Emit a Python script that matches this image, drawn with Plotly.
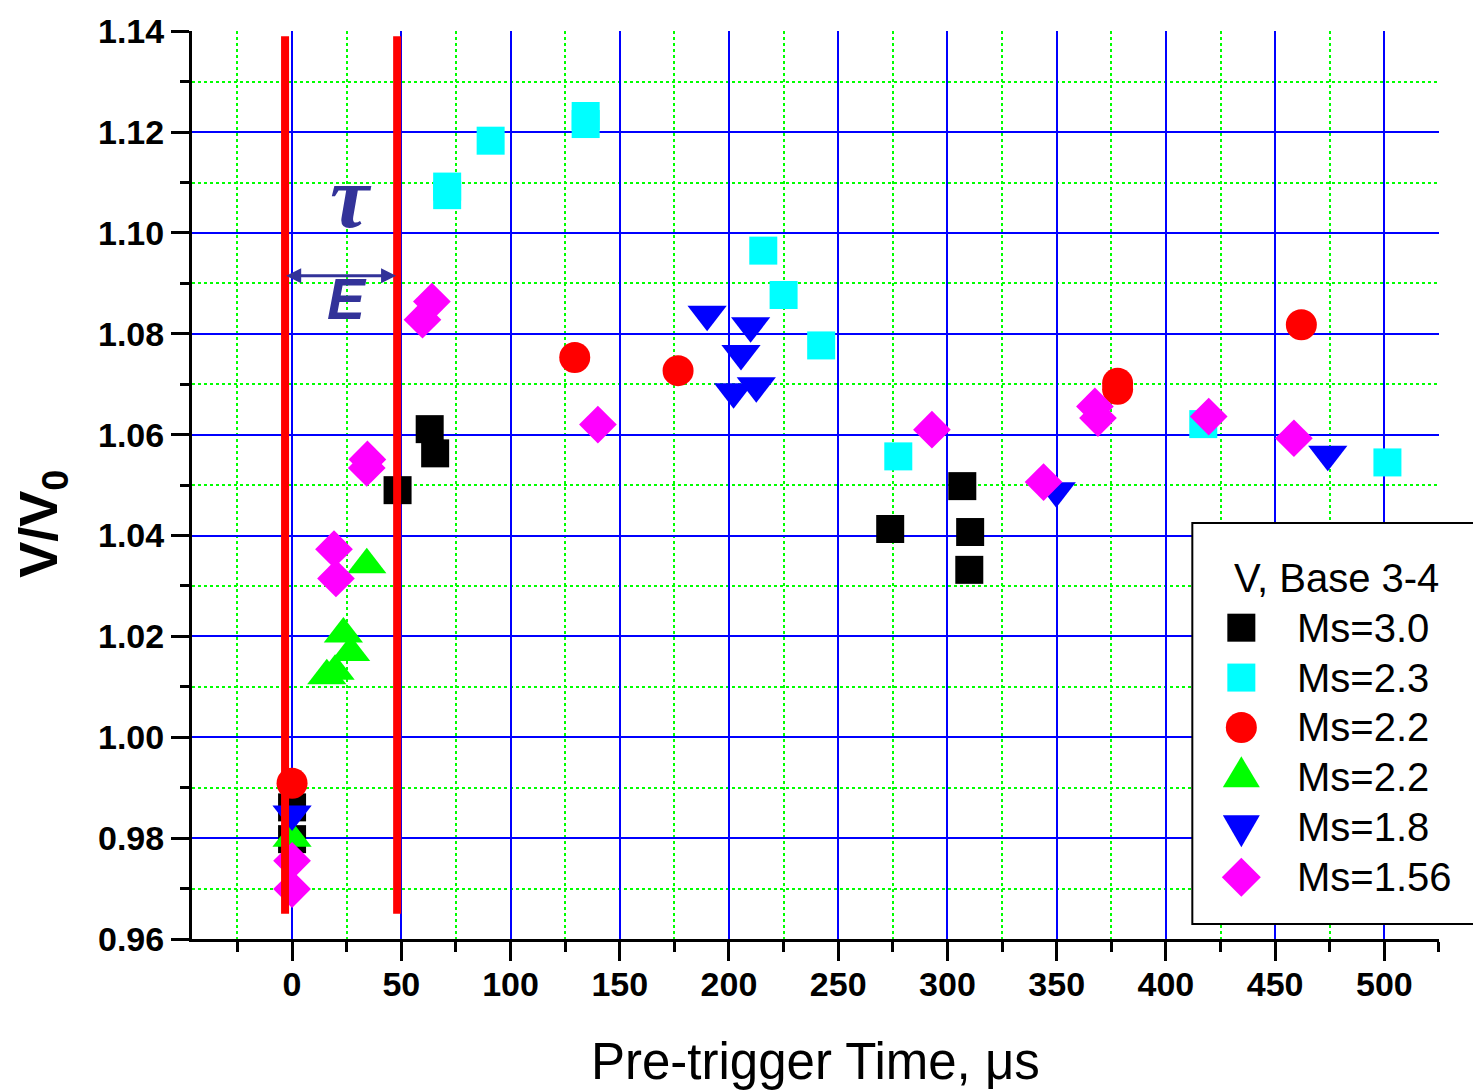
import plotly.graph_objects as go

# ---------------- data ----------------
series_names = ["Ms=3.0", "Ms=2.3", "Ms=2.2", "Ms=2.2", "Ms=1.8", "Ms=1.56"]
legend_title = "V, Base 3-4"

ms30_x = [0, 0, 63.0, 65.5, 48.3, 273.8, 306.8, 310.4, 310.0]
ms30_y = [0.9861, 0.9798, 1.0611, 1.0563, 1.0490, 1.0413, 1.0498, 1.0407, 1.0332]

ms23_x = [71.0, 71.0, 90.9, 134.4, 134.4, 215.7, 225.0, 242.2, 277.5, 417.1, 501.4]
ms23_y = [1.1092, 1.1075, 1.1183, 1.1232, 1.1216, 1.0965, 1.0877, 1.0777, 1.0557, 1.0621, 1.0545]

ms22a_x = [0, 129.4, 176.7, 377.9, 377.9, 462.0]
ms22a_y = [0.9909, 1.0753, 1.0727, 1.0702, 1.0690, 1.0818]

ms22b_x = [0, 15.9, 19.7, 23.5, 26.8, 34.2]
ms22b_y = [0.9800, 1.0122, 1.0131, 1.0205, 1.0168, 1.0342]

ms18_x = [0, 190.0, 209.9, 205.5, 202.1, 212.5, 349.8, 474.1]
ms18_y = [0.9848, 1.0839, 1.0816, 1.0761, 1.0685, 1.0697, 1.0489, 1.0561]

ms156_x = [0, 0, 19.2, 20.1, 34.5, 34.2, 64.0, 59.7, 140.0, 292.9, 344.0, 367.5, 368.9, 419.6, 458.6]
ms156_y = [0.9755, 0.9699, 1.0373, 1.0315, 1.0551, 1.0534, 1.0864, 1.0828, 1.0620, 1.0610,
           1.0506, 1.0656, 1.0633, 1.0636, 1.0593]

x_tick_vals = [0, 50, 100, 150, 200, 250, 300, 350, 400, 450, 500]
y_tick_vals = [0.96, 0.98, 1.00, 1.02, 1.04, 1.06, 1.08, 1.10, 1.12, 1.14]
y_tick_text = ["0.96", "0.98", "1.00", "1.02", "1.04", "1.06", "1.08", "1.10", "1.12", "1.14"]

# tau window (red vertical lines) and double arrow
tau_lines_x = [-3.2, 48.1]
tau_lines_y = [0.965, 1.139]
arrow_x = [-2.7, 47.6]
arrow_y = 1.0915

# ---------------- styling ----------------
FONT = "Liberation Sans, Arial, sans-serif"
NAVY = "#333399"
colors = ["#000000", "#00FFFF", "#FF0000", "#00FF00", "#0000FF", "#FF00FF"]
symbols = ["square", "square", "circle", "triangle-up", "triangle-down", "diamond"]
sizes = [28, 28, 31, 34, 34, 29]

xs = [ms30_x, ms23_x, ms22a_x, ms22b_x, ms18_x, ms156_x]
ys = [ms30_y, ms23_y, ms22a_y, ms22b_y, ms18_y, ms156_y]

W, H = 1473, 1091
ML, MR, MT, MB = 192, 34.4, 29, 152
PW = W - ML - MR
PH = H - MT - MB


def px_x(px):
    return (px - ML) / PW


def px_y(py):
    return (H - MB - py) / PH


fig = go.Figure()
for name, x, y, c, s, sz in zip(series_names, xs, ys, colors, symbols, sizes):
    fig.add_trace(go.Scatter(
        x=x, y=y, mode="markers", name=name, showlegend=False,
        marker=dict(symbol=s, size=sz, color=c, line=dict(width=0)),
        cliponaxis=False,
    ))

shapes = []
# red tau-window lines
for lx in tau_lines_x:
    shapes.append(dict(type="line", xref="x", yref="y", x0=lx, x1=lx,
                       y0=tau_lines_y[0], y1=tau_lines_y[1],
                       line=dict(color="#FF0000", width=8), layer="above"))

# double-headed arrow (shaft + two heads)
shapes.append(dict(type="line", xref="x", yref="y", x0=arrow_x[0] + 3, x1=arrow_x[1] - 3,
                   y0=arrow_y, y1=arrow_y, line=dict(color=NAVY, width=3), layer="above"))
shapes.append(dict(type="path", xref="x", yref="y", xsizemode="pixel", ysizemode="pixel",
                   xanchor=arrow_x[1], yanchor=arrow_y, path="M0,0 L-15,7.5 L-15,-7.5 Z",
                   fillcolor=NAVY, line=dict(width=0), layer="above"))
shapes.append(dict(type="path", xref="x", yref="y", xsizemode="pixel", ysizemode="pixel",
                   xanchor=arrow_x[0], yanchor=arrow_y, path="M0,0 L15,7.5 L15,-7.5 Z",
                   fillcolor=NAVY, line=dict(width=0), layer="above"))

# custom legend box
shapes.append(dict(type="rect", xref="paper", yref="paper",
                   x0=px_x(1192), x1=px_x(1490), y0=px_y(924), y1=px_y(522),
                   line=dict(color="black", width=2), fillcolor="white", layer="above"))

leg_sym_x = px_x(1241)
leg_rows_py = [627, 677, 727, 777, 827, 877]
sym_paths = {
    "triangle-up": "M-18.5,-10 L18.5,-10 L0,21 Z",
    "triangle-down": "M-18.5,12 L18.5,12 L0,-20 Z",
    "diamond": "M0,19.5 L19.5,0 L0,-19.5 L-19.5,0 Z",
}
for s, c, py in zip(symbols, colors, leg_rows_py):
    base = dict(xref="paper", yref="paper", xsizemode="pixel", ysizemode="pixel",
                xanchor=leg_sym_x, yanchor=px_y(py), fillcolor=c,
                line=dict(width=0), layer="above")
    if s == "square":
        shapes.append(dict(type="rect", x0=-14, x1=14, y0=-14, y1=14, **base))
    elif s == "circle":
        shapes.append(dict(type="circle", x0=-15.5, x1=15.5, y0=-15.5, y1=15.5, **base))
    else:
        shapes.append(dict(type="path", path=sym_paths[s], **base))

annotations = []
annotations.append(dict(xref="paper", yref="paper", x=px_x(1336), y=px_y(577),
                        text=legend_title, showarrow=False, xanchor="center", yanchor="middle",
                        font=dict(family=FONT, size=40, color="black")))
for name, py in zip(series_names, leg_rows_py):
    annotations.append(dict(xref="paper", yref="paper", x=px_x(1295), y=px_y(py),
                            text=name, showarrow=False, xanchor="left", yanchor="middle",
                            font=dict(family=FONT, size=40, color="black")))

annotations.append(dict(xref="x", yref="y", x=27, y=1.1070, text="<b><i>τ</i></b>",
                        showarrow=False, xanchor="center", yanchor="middle",
                        font=dict(family="Liberation Serif, Times New Roman, serif", size=88,
                                  color=NAVY)))
annotations.append(dict(xref="x", yref="y", x=25.2, y=1.0869, text="<b><i>E</i></b>",
                        showarrow=False, xanchor="center", yanchor="middle",
                        font=dict(family=FONT, size=57, color=NAVY)))

# axis titles
annotations.append(dict(xref="paper", yref="paper", x=px_x(42), y=px_y(523),
                        text="<b>V/V<sub>0</sub></b>", textangle=-90, showarrow=False,
                        xanchor="center", yanchor="middle",
                        font=dict(family=FONT, size=54, color="black")))
annotations.append(dict(xref="paper", yref="paper", x=0.5, y=px_y(1062),
                        text="Pre-trigger Time, μs", showarrow=False,
                        xanchor="center", yanchor="middle",
                        font=dict(family=FONT, size=51, color="black")))

fig.update_layout(
    width=W, height=H, autosize=False,
    margin=dict(l=ML, r=MR, t=MT, b=MB, pad=0),
    paper_bgcolor="white", plot_bgcolor="white",
    showlegend=False,
    shapes=shapes, annotations=annotations,
    font=dict(family=FONT, color="black"),
)

fig.update_xaxes(
    range=[-45.8, 525.01], tickmode="array", tickvals=x_tick_vals,
    ticks="outside", ticklen=19, tickwidth=3, tickcolor="black",
    ticklabelstandoff=-6,
    showline=True, linecolor="black", linewidth=3,
    showgrid=True, gridcolor="#0000FF", gridwidth=2, zeroline=False,
    tickfont=dict(family=FONT, size=34, color="black", weight="bold"),
    minor=dict(dtick=25, tick0=0, ticks="outside", ticklen=10, tickwidth=3, tickcolor="black",
               showgrid=True, gridcolor="#00FF00", griddash="dot", gridwidth=1.5),
)
fig.update_yaxes(
    range=[0.96, 1.14005], tickmode="array", tickvals=y_tick_vals, ticktext=y_tick_text,
    ticks="outside", ticklen=18, tickwidth=3, tickcolor="black",
    showline=True, linecolor="black", linewidth=3,
    showgrid=True, gridcolor="#0000FF", gridwidth=2, zeroline=False,
    tickfont=dict(family=FONT, size=34, color="black", weight="bold"),
    minor=dict(dtick=0.01, tick0=0.96, ticks="outside", ticklen=9, tickwidth=3, tickcolor="black",
               showgrid=True, gridcolor="#00FF00", griddash="dot", gridwidth=1.5),
)

fig.write_html("out.html")
